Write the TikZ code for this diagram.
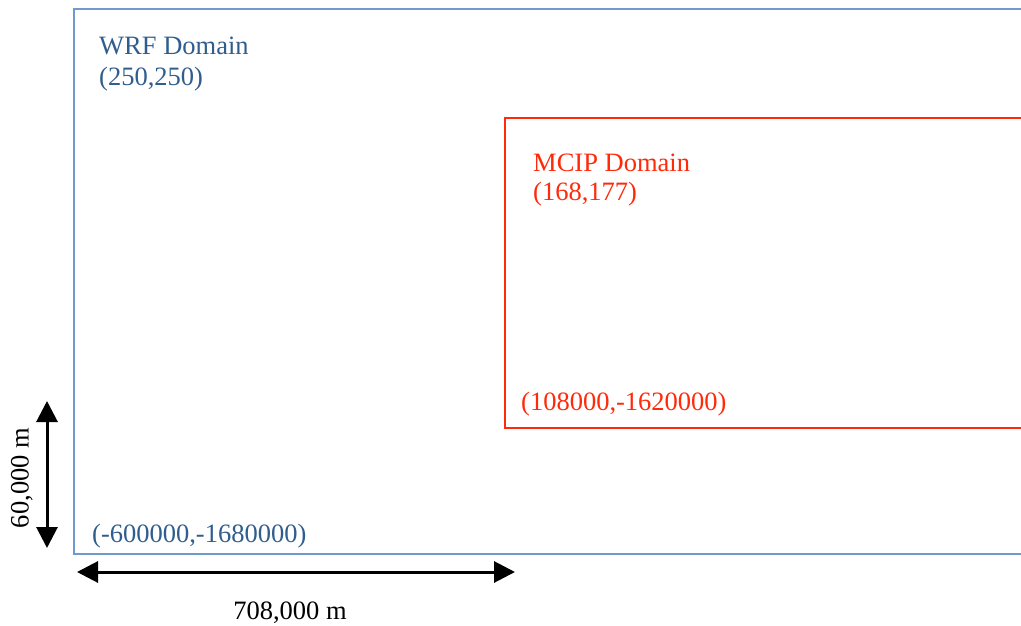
\documentclass[tikz,border=0pt]{standalone}
\usepackage{fontspec}
\setmainfont{Liberation Serif}
\usetikzlibrary{arrows.meta}
\definecolor{wrfline}{HTML}{6E9AD0}
\definecolor{wrftext}{HTML}{2F5E8E}
\definecolor{mcipred}{HTML}{FF2A0A}
\tikzset{
  lbl/.style={anchor=base west, inner sep=0pt, font=\fontsize{26.5}{30}\selectfont},
  wrflbl/.style={lbl, text=wrftext},
  mciplbl/.style={lbl, text=mcipred},
  dimarrow/.style={line width=3pt, {Triangle[width=21pt,length=21pt]}-{Triangle[width=21pt,length=21pt]}},
}
\begin{document}
\begin{tikzpicture}[x=1pt, y=-1pt]
  \useasboundingbox (0,0) rectangle (1021,626);
  % WRF domain outline (right side runs off the page)
  \draw[wrfline, line width=1.6pt] (1030,9) -- (74,9) -- (74,554) -- (1030,554);
  % MCIP domain outline
  \draw[mcipred, line width=1.6pt] (1030,118) -- (505,118) -- (505,428) -- (1030,428);

  \node[wrflbl] (wrfname) at (99,55) {WRF Domain};
  \node[wrflbl] (wrfsize) at (99,85) {(250,250)};
  \node[wrflbl] (wrforigin) at (92,542) {(-600000,-1680000)};

  \node[mciplbl] (mcipname) at (533,171) {MCIP Domain};
  \node[mciplbl] (mcipsize) at (533,200) {(168,177)};
  \node[mciplbl] (mciporigin) at (521,410) {(108000,-1620000)};

  % dimension arrows
  \coordinate (vtop) at (47,401);
  \coordinate (vbot) at (47,548);
  \draw[dimarrow] (vtop) -- (vbot);
  \node[lbl, anchor=base, rotate=90] (vlabel) at (28.5,478) {60,000 m};

  \coordinate (hleft) at (77,572);
  \coordinate (hright) at (515,572);
  \draw[dimarrow] (hleft) -- (hright);
  \node[lbl, anchor=base] (hlabel) at (290,619) {708,000 m};
\end{tikzpicture}
\end{document}
